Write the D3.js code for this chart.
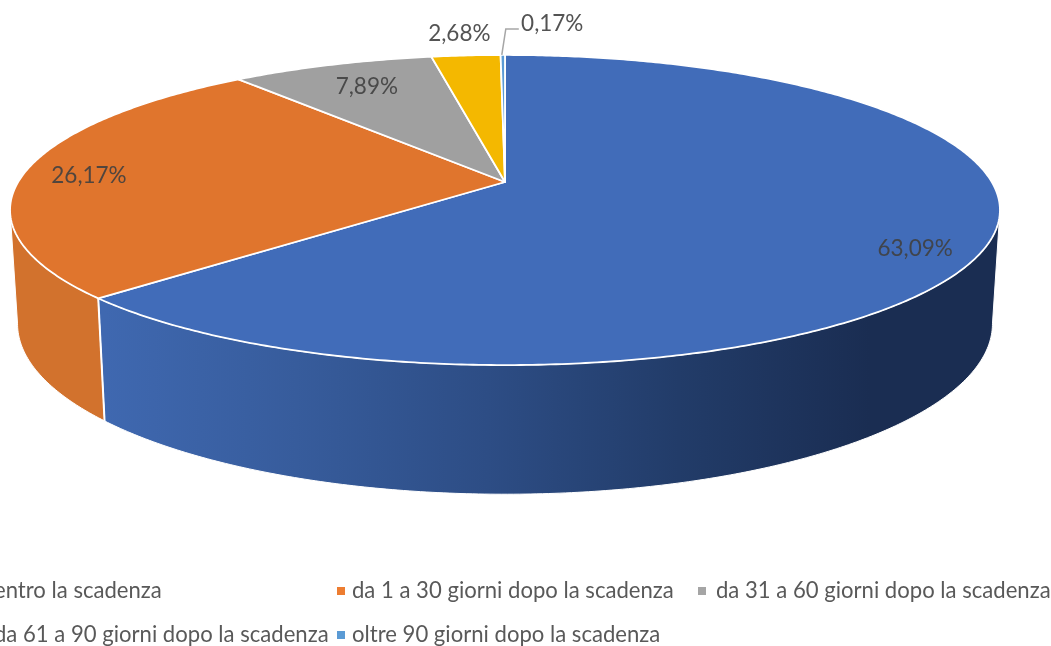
<!DOCTYPE html>
<html>
<head>
<meta charset="utf-8">
<script src="https://cdn.jsdelivr.net/npm/d3@7"></script>
<style>
    html, body { margin: 0; padding: 0; background: #fff; overflow: hidden; }
    svg { display: block; filter: blur(0.45px); }
    text { font-family: Lato, "Open Sans", sans-serif; }
</style>
</head>
<body>
<svg id="chart" width="1051" height="646"></svg>
<script>
const categories = [
    "entro la scadenza",
    "da 1 a 30 giorni dopo la scadenza",
    "da 31 a 60 giorni dopo la scadenza",
    "da 61 a 90 giorni dopo la scadenza",
    "oltre 90 giorni dopo la scadenza"
];
const values = [63.09, 26.17, 7.89, 2.68, 0.17];
const topColors = ["#416cb9", "#e0752d", "#a0a0a0", "#f4b800", "#5b9bd5"];
const legendColors = ["#416cb9", "#ed7d31", "#a5a5a5", "#ffc000", "#5b9bd5"];

//  where each label sits, as a fraction of the radius along its slice's middle
const labelFracs = [0.862, 0.869, 0.76, 1.27, 1.3];
const labelNudges = [[0, 13], [1, 5], [-2, -1], [2, 8], [50, 1]];

const svg = d3.select("#chart");

//  perspective: far side of the disc is squeezed, so the apex is not the ellipse centre
const topFace = {cx: 505, cy: 182, rx: 486.8, ry: 150, k: 0.1807};
const bottomFace = {cx: 505, cy: 293, rx: 479.5, ry: 165, k: 0.18};

function project(face, angle, frac = 1) {
    const u = Math.sin(angle) * frac;
    const v = Math.cos(angle) * frac;
    const w = 1 + face.k * v;
    return [face.cx + face.rx * u / w, face.cy - face.ry * v / w];
}

function rim(face, a0, a1) {
    const steps = Math.max(2, Math.ceil(Math.abs(a1 - a0) / 0.01));
    return d3.range(steps + 1).map(i => project(face, a0 + (a1 - a0) * i / steps));
}

const slices = d3.pie().sort(null).value(d => d.value)(
    values.map((value, i) => ({value, i}))
);

const colorOf = d3.scaleOrdinal(d3.range(values.length), topColors);
const legendColorOf = d3.scaleOrdinal(categories, legendColors);
const line = d3.line();

//  gradient on the long blue wall
const defs = svg.append("defs");
const wallGrad = defs.append("linearGradient")
    .attr("id", "blueWall")
    .attr("gradientUnits", "userSpaceOnUse")
    .attr("x1", 105).attr("x2", 870).attr("y1", 0).attr("y2", 0);
wallGrad.selectAll("stop")
    .data([[0, "#3f68b0"], [0.25, "#375c9c"], [0.5, "#2d4d85"], [0.75, "#223c69"], [1, "#1a2d52"]])
    .join("stop")
    .attr("offset", d => d[0])
    .attr("stop-color", d => d[1]);

//  the wall is seen between the left and right extremes of the ellipse
const wallStart = Math.acos(-topFace.k);
const wallEnd = 2 * Math.PI - wallStart;

const walls = slices
    .filter(s => s.endAngle > wallStart && s.startAngle < wallEnd)
    .map(s => ({
        i: s.data.i,
        a0: Math.max(s.startAngle, wallStart),
        a1: Math.min(s.endAngle, wallEnd)
    }));

svg.append("g").selectAll("path")
    .data(walls)
    .join("path")
    .attr("d", d => line([...rim(topFace, d.a0, d.a1), ...rim(bottomFace, d.a1, d.a0)]) + "Z")
    .attr("fill", d => d.i === 0 ? "url(#blueWall)" : "#d2722d")
    .attr("stroke", "#fff")
    .attr("stroke-width", 1);

//  divider between the blue and orange walls
svg.append("path")
    .attr("d", line([project(topFace, slices[0].endAngle), project(bottomFace, slices[0].endAngle)]))
    .attr("stroke", "#fff")
    .attr("stroke-width", 2)
    .attr("fill", "none");

//  top face
svg.append("g").selectAll("path")
    .data(slices)
    .join("path")
    .attr("d", d => line([[topFace.cx, topFace.cy], ...rim(topFace, d.startAngle, d.endAngle)]) + "Z")
    .attr("fill", d => colorOf(d.data.i))
    .attr("stroke", "#fff")
    .attr("stroke-width", 1.8)
    .attr("stroke-linejoin", "round");

//  leader line of the smallest slice
const smallMid = (slices[4].startAngle + slices[4].endAngle) / 2;
const leaderStart = project(topFace, smallMid);
svg.append("path")
    .attr("d", line([
        [leaderStart[0] - 1, leaderStart[1]],
        [leaderStart[0] + 3, leaderStart[1] - 26],
        [leaderStart[0] + 16, leaderStart[1] - 26]
    ]))
    .attr("fill", "none")
    .attr("stroke", "#a6a6a6")
    .attr("stroke-width", 1.5);

//  data labels
svg.append("g").selectAll("text")
    .data(slices)
    .join("text")
    .attr("x", (d, i) => project(topFace, (d.startAngle + d.endAngle) / 2, labelFracs[i])[0] + labelNudges[i][0])
    .attr("y", (d, i) => project(topFace, (d.startAngle + d.endAngle) / 2, labelFracs[i])[1] + labelNudges[i][1])
    .attr("text-anchor", "middle")
    .attr("dominant-baseline", "middle")
    .attr("font-size", 22.5)
    .attr("fill", "#404040")
    .attr("fill-opacity", 0.9)
    .text(d => d.data.value.toFixed(2).replace(".", ",") + "%");

//  legend, cropped on the left as in the picture
const legendRows = [592, 636];
const legendCols = [-6, 352, 716];
const legendMarkerGaps = [-15, -15, -18];
const legendSlots = [[0, 0], [0, 1], [0, 2], [1, 0], [1, 1]];

const legend = svg.append("g").selectAll("g")
    .data(categories)
    .join("g")
    .attr("transform", (d, i) => `translate(${legendCols[legendSlots[i][1]]},${legendRows[legendSlots[i][0]]})`);

legend.append("rect")
    .attr("x", (d, i) => legendMarkerGaps[legendSlots[i][1]]).attr("y", -5)
    .attr("width", 8).attr("height", 8)
    .attr("fill", d => legendColorOf(d));

legend.append("text")
    .attr("dominant-baseline", "middle")
    .attr("font-size", 22.1)
    .attr("fill", "#595959")
    .text(d => d);
</script>
</body>
</html>
